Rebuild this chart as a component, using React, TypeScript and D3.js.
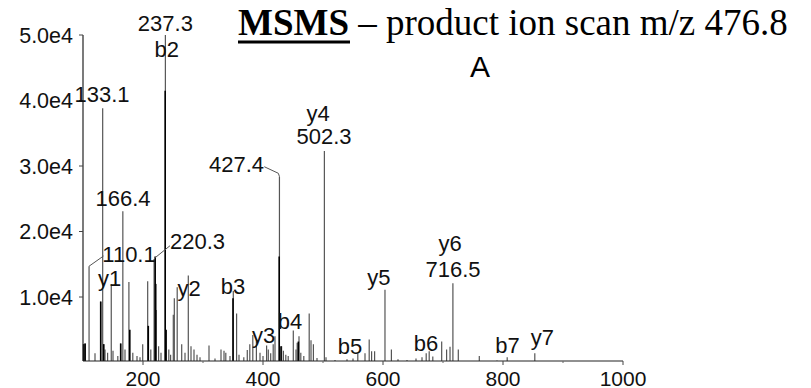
import React from "react";
import * as d3 from "d3";

// m/z and intensity of each peak line (gray = main trace)
const peakMz = [101, 103.5, 110.1, 120, 129.5, 132.8, 134.5, 136.7, 141, 147.1, 150, 158, 162.8, 166.4, 170, 176.5, 183, 190, 195, 199.5, 207.8, 213, 218.5, 222, 226, 230, 237.3, 243, 246, 250.5, 252.2, 257, 264.5, 270, 275.5, 280, 285, 290, 295, 310, 320, 330, 335, 338, 345, 350.5, 356, 360, 368, 373.8, 378, 383, 389, 395, 400, 406, 408.8, 412.8, 417, 420, 427.4, 431, 434, 438, 442, 450.5, 455, 457, 460, 463, 468, 477, 480, 484, 490, 502.3, 505, 520, 540, 550, 558, 570, 577, 581, 586, 603.3, 614, 625, 640, 655, 665, 672, 677, 683, 697.8, 706, 711.7, 716.5, 725.5, 760.5, 790, 807, 853];
const peakInt = [2800, 2900, 14700, 1400, 9300, 38800, 2800, 2000, 1500, 12000, 1800, 1000, 2900, 23100, 2000, 12300, 1500, 1000, 800, 2800, 12400, 2000, 15800, 8000, 2500, 1500, 50000, 2000, 1200, 7300, 9800, 11500, 2800, 1500, 13300, 2500, 2000, 1200, 800, 2600, 600, 2000, 1800, 1500, 1000, 10900, 7500, 1200, 800, 1900, 2800, 4200, 3200, 1500, 1000, 2600, 2000, 1400, 2800, 4000, 28400, 2500, 1800, 1200, 1000, 4900, 2000, 3000, 4000, 1500, 1000, 7500, 3400, 2800, 700, 32300, 800, 400, 500, 600, 1400, 1400, 3500, 1700, 1700, 11100, 2000, 500, 400, 600, 800, 1400, 1700, 900, 3200, 2000, 2400, 12100, 2000, 1000, 300, 800, 1400];

// dark overlapping peaks
const darkMz = [101, 103.5, 129.5, 134.5, 162.8, 178, 208.8, 220.3, 221.2, 237.0, 238.5, 350, 427.0, 430, 459];
const darkInt = [2800, 2900, 9300, 2800, 2900, 5000, 5600, 16200, 12000, 41500, 5000, 9800, 16200, 2500, 3200];

// peak annotations: text, m/z of centre, intensity of baseline
const labelText = ["237.3", "b2", "133.1", "166.4", "110.1", "220.3", "y1", "427.4", "y4", "502.3", "y5", "y6", "716.5", "b3", "y2", "y3", "b4", "b5", "b6", "b7", "y7"];
const labelMz = [237.3, 239.5, 131.7, 166.7, 176.7, 290.8, 144.2, 355.8, 491.7, 501.7, 593.3, 711.7, 716.7, 350, 276.7, 401.2, 445, 545, 671.7, 807.5, 865.8];
const labelInt = [50660, 46600, 39730, 23940, 15390, 17280, 11680, 29080, 36900, 33360, 11830, 17000, 13100, 10410, 10150, 2980, 5110, 1300, 1760, 1450, 2670];

// leader lines: [from mz, from int, to mz, to int]
const leaders = [
  [110.1, 14700, 134.2, 16260],
  [220.3, 16000, 245, 17830],
  [427.4, 28400, 425.5, 28890],
  [425.5, 28890, 402.2, 29890],
];

const xTicks = [200, 400, 600, 800, 1000];
const xMinor = [300, 500, 700, 900];
const yTicks = [10000, 20000, 30000, 40000, 50000];
const yTickLabels = ["1.0e4", "2.0e4", "3.0e4", "4.0e4", "5.0e4"];

const W = 811;
const H = 388;
const sans = "'Liberation Sans', Arial, sans-serif";
const serif = "'Liberation Serif', 'Times New Roman', serif";

export default function App() {
  const x = d3.scaleLinear().domain([100, 1000]).range([83, 623]);
  const y = d3.scaleLinear().domain([0, 50000]).range([362.5, 35]);
  const base = y(0) - 1.5;

  return (
    <svg width={W} height={H} style={{ position: "absolute", left: 0, top: 0, background: "#fff" }}>
      <rect x={0} y={0} width={W} height={H} fill="#fff" />
      {/* peaks */}
      {peakMz.map((m, i) => (
        <line key={"p" + i} x1={x(m)} x2={x(m)} y1={base} y2={y(peakInt[i])} stroke="#555" strokeWidth={1.2} />
      ))}
      {darkMz.map((m, i) => (
        <line key={"d" + i} x1={x(m)} x2={x(m)} y1={base} y2={y(darkInt[i])} stroke="#000" strokeWidth={1.6} />
      ))}
      {/* leaders */}
      {leaders.map((l, i) => (
        <line key={"l" + i} x1={x(l[0])} y1={y(l[1])} x2={x(l[2])} y2={y(l[3])} stroke="#555" strokeWidth={1} />
      ))}
      {/* axes */}
      <line x1={x(100)} x2={x(100)} y1={y(50000)} y2={base} stroke="#222" strokeWidth={1.2} />
      <line x1={x(100)} x2={x(1000)} y1={base} y2={base} stroke="#222" strokeWidth={1.2} />
      {yTicks.map((t, i) => (
        <g key={"yt" + i}>
          <line x1={x(100) - 4} x2={x(100)} y1={y(t)} y2={y(t)} stroke="#444" strokeWidth={1} />
          <text x={73} y={y(t)} dy="0.36em" textAnchor="end" fontFamily={sans} fontSize={21.5} fill="#111">
            {yTickLabels[i]}
          </text>
        </g>
      ))}
      {xTicks.map((t, i) => (
        <g key={"xt" + i}>
          <line x1={x(t)} x2={x(t)} y1={base} y2={base + 4} stroke="#444" strokeWidth={1} />
          <text x={x(t)} y={385.5} textAnchor="middle" fontFamily={sans} fontSize={21} fill="#111">
            {t}
          </text>
        </g>
      ))}
      {xMinor.map((t, i) => (
        <line key={"xm" + i} x1={x(t)} x2={x(t)} y1={base} y2={base + 2} stroke="#666" strokeWidth={1} />
      ))}
      {/* peak labels */}
      {labelText.map((t, i) => (
        <text key={"lab" + i} x={x(labelMz[i])} y={y(labelInt[i])} textAnchor="middle" fontFamily={sans} fontSize={22} fill="#111">
          {t}
        </text>
      ))}
      {/* title */}
      <text x={238} y={35} fontFamily={serif} fontSize={37} fill="#000">
        <tspan fontWeight="bold">MSMS</tspan>
        <tspan> – product ion scan m/z 476.8</tspan>
      </text>
      <line x1={238} x2={350} y1={42} y2={42} stroke="#000" strokeWidth={3} />
      <text x={480} y={77} textAnchor="middle" fontFamily={sans} fontSize={30} fill="#000">
        A
      </text>
    </svg>
  );
}
